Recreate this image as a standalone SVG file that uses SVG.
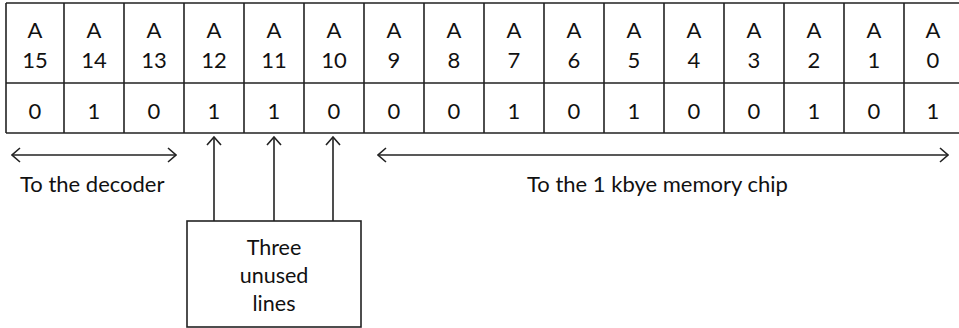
<svg xmlns="http://www.w3.org/2000/svg" width="959" height="328" viewBox="0 0 959 328">
<defs>
<style>
.ln{stroke:#222;stroke-width:1.6;fill:none}
.t{font-family:"Lato","Liberation Sans",sans-serif;font-size:22px;fill:#111;text-anchor:middle}
.b{font-family:"Lato","Liberation Sans",sans-serif;font-size:21.5px;fill:#111;text-anchor:middle}
.lbl{font-family:"Lato","Liberation Sans",sans-serif;font-size:22px;fill:#111}
</style>
<marker id="ah" viewBox="0 0 10 16" refX="9" refY="8" markerWidth="10" markerHeight="16" markerUnits="userSpaceOnUse" orient="auto-start-reverse">
<path d="M1,1 L9,8 L1,15" fill="none" stroke="#222" stroke-width="1.6"/>
</marker>
</defs>
<rect width="959" height="328" fill="#fff"/>
<g id="register">
<path class="ln" d="M6,3 H964 M6,83 H964 M6,133 H964 M6,3 V133 M64,3 V133 M124,3 V133 M184,3 V133 M244,3 V133 M304,3 V133 M364,3 V133 M424,3 V133 M484,3 V133 M544,3 V133 M604,3 V133 M664,3 V133 M724,3 V133 M784,3 V133 M844,3 V133 M904,3 V133 M963,3 V133"/>
<g class="t">
<text x="35" y="38">A</text><text x="35" y="68">15</text><text x="35" y="119">0</text>
<text x="94" y="38">A</text><text x="94" y="68">14</text><text x="94" y="119">1</text>
<text x="154" y="38">A</text><text x="154" y="68">13</text><text x="154" y="119">0</text>
<text x="214" y="38">A</text><text x="214" y="68">12</text><text x="214" y="119">1</text>
<text x="274" y="38">A</text><text x="274" y="68">11</text><text x="274" y="119">1</text>
<text x="334" y="38">A</text><text x="334" y="68">10</text><text x="334" y="119">0</text>
<text x="394" y="38">A</text><text x="394" y="68">9</text><text x="394" y="119">0</text>
<text x="454" y="38">A</text><text x="454" y="68">8</text><text x="454" y="119">0</text>
<text x="514" y="38">A</text><text x="514" y="68">7</text><text x="514" y="119">1</text>
<text x="574" y="38">A</text><text x="574" y="68">6</text><text x="574" y="119">0</text>
<text x="634" y="38">A</text><text x="634" y="68">5</text><text x="634" y="119">1</text>
<text x="694" y="38">A</text><text x="694" y="68">4</text><text x="694" y="119">0</text>
<text x="754" y="38">A</text><text x="754" y="68">3</text><text x="754" y="119">0</text>
<text x="814" y="38">A</text><text x="814" y="68">2</text><text x="814" y="119">1</text>
<text x="874" y="38">A</text><text x="874" y="68">1</text><text x="874" y="119">0</text>
<text x="933" y="38">A</text><text x="933" y="68">0</text><text x="933" y="119">1</text>
</g>
</g>
<g id="connectors">
<line class="ln" x1="12" y1="155" x2="176" y2="155" marker-start="url(#ah)" marker-end="url(#ah)"/>
<line class="ln" x1="378" y1="155" x2="948" y2="155" marker-start="url(#ah)" marker-end="url(#ah)"/>
<line class="ln" x1="214" y1="221" x2="214" y2="137" marker-end="url(#ah)"/>
<line class="ln" x1="274" y1="221" x2="274" y2="137" marker-end="url(#ah)"/>
<line class="ln" x1="333" y1="221" x2="333" y2="137" marker-end="url(#ah)"/>
</g>
<g id="decoder-label"><text class="lbl" x="20" y="192">To the decoder</text></g>
<g id="memory-label"><text class="lbl" x="527" y="192">To the 1 kbye memory chip</text></g>
<g id="unused-box">
<rect class="ln" x="187" y="221" width="174" height="106"/>
<g class="b"><text x="274" y="255">Three</text><text x="274" y="283">unused</text><text x="274" y="311">lines</text></g>
</g>
</svg>
